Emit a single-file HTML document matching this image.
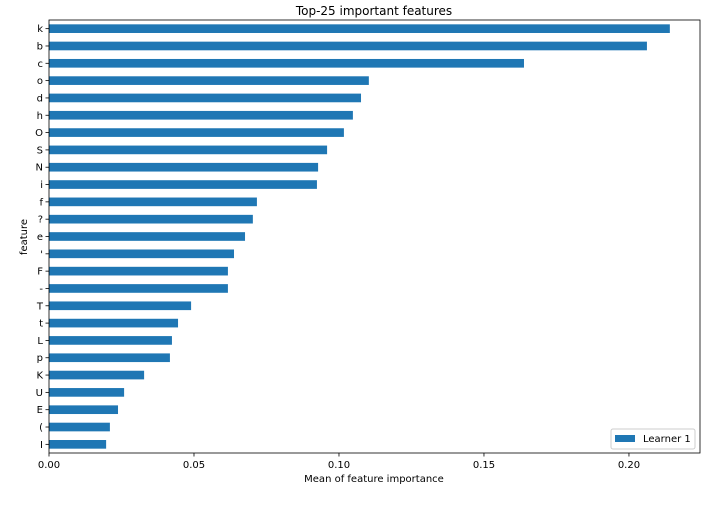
<!DOCTYPE html>
<html><head><meta charset="utf-8"><style>
body{margin:0;background:#fff;}
svg text{font-family:"DejaVu Sans","Liberation Sans",sans-serif;fill:#000;}
</style></head><body>
<svg id="chart" width="720" height="504">
<text x="374" y="15" font-size="12" text-anchor="middle">Top-25 important features</text>
<text x="374" y="482" font-size="10" text-anchor="middle">Mean of feature importance</text>
<text x="27" y="237" font-size="10" text-anchor="middle" transform="rotate(-90 27 237)">feature</text>
<g id="bars"></g><g id="axes"></g>
<g>
<rect x="611" y="429" width="84" height="20" rx="2" fill="#fff" stroke="#ccc"/>
<rect x="615" y="435" width="20" height="7" fill="#1f77b4"/>
<text x="643" y="442" font-size="10">Learner 1</text>
</g>
</svg>
<script>
const features=["k","b","c","o","d","h","O","S","N","i","f","?","e","'","F","-","T","t","L","p","K","U","E","(","I"];
const values=[0.2141,0.2062,0.1638,0.1103,0.1076,0.1048,0.1017,0.0959,0.0928,0.0924,0.0717,0.0703,0.0676,0.0638,0.0617,0.0617,0.049,0.0445,0.0424,0.0417,0.0328,0.0259,0.0238,0.021,0.0197];
const xTicks=[0,0.05,0.10,0.15,0.20];
const xTickLabels=["0.00","0.05","0.10","0.15","0.20"];
const L=49,R=700,T=20,B=453,xMax=0.2245;
const ns="http://www.w3.org/2000/svg";
const xs=v=>L+v/xMax*(R-L);
const step=(B-T)/features.length;
const ys=i=>T+step*(i+0.5);
const bars=document.getElementById('bars'),axes=document.getElementById('axes');
function mk(tag,attrs,parent){const e=document.createElementNS(ns,tag);for(const k in attrs)e.setAttribute(k,attrs[k]);parent.appendChild(e);return e;}
features.forEach((f,i)=>{
 const r=mk('rect',{x:L,y:ys(i)-step*0.25,width:xs(values[i])-L,height:step*0.5,fill:'#1f77b4'},bars);
 
 
 mk('line',{x1:L-3.5,x2:L,y1:ys(i),y2:ys(i),stroke:'#000','stroke-width':0.8},axes);
 const t=mk('text',{x:L-6,y:ys(i)+3.5,'font-size':10,'text-anchor':'end'},axes);
 t.textContent=f;
 
 
});
xTicks.forEach((v,i)=>{
 mk('line',{x1:xs(v),x2:xs(v),y1:B,y2:B+3.5,stroke:'#000','stroke-width':0.8},axes);
 const t=mk('text',{x:xs(v),y:B+15,'font-size':10,'text-anchor':'middle'},axes);
 t.textContent=xTickLabels[i];
 
 
});
const fr=mk('rect',{x:L,y:T,width:R-L,height:B-T,fill:'none',stroke:'#000','stroke-width':0.8},axes);


</script>
</body></html>
